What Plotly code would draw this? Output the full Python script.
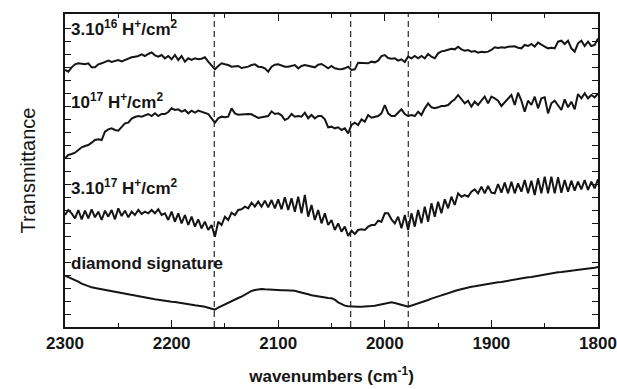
import numpy as np
import plotly.graph_objects as go

# spectral sampling grid (cm^-1), uniform step 3.125
wavenumber = np.linspace(2300, 1800, 161)

# relative transmittance (arbitrary units)
t_3e16 = [180,175,188,197,200,198,197,200,188,188,
          197,200,203,208,204,207,210,206,210,215,
          218,220,222,227,222,228,233,224,220,225,
          215,222,212,225,210,222,205,215,210,215,
          212,214,218,205,195,182,192,200,197,195,
          190,192,192,186,187,190,195,197,190,189,
          185,175,190,196,197,194,190,190,192,195,
          185,192,195,193,192,188,196,198,192,185,
          192,
          185,183,182,185,190,180,182,202,202,201,
          200,205,203,208,222,225,216,214,215,208,
          212,204,220,215,222,215,222,215,228,220,
          215,230,236,238,242,244,242,250,242,238,
          240,235,237,232,235,233,235,240,248,246,
          248,247,250,251,251,247,245,255,252,258,
          250,262,255,250,245,247,245,265,268,258,
          268,245,235,260,268,252,265,252,255,275]

t_1e17 = [95,105,108,112,120,128,132,135,142,150,
          152,150,175,182,185,180,178,190,200,202,
          214,219,222,220,224,228,222,230,222,228,
          228,234,245,240,242,235,240,230,238,232,
          238,235,230,228,215,202,215,220,218,220,
          245,230,226,227,226,228,227,221,216,218,
          219,222,236,228,230,224,210,215,228,220,
          222,220,232,215,225,215,222,222,212,188,
          190,
          185,188,180,185,170,195,202,195,212,205,
          225,217,220,222,230,255,230,222,222,232,
          242,228,222,225,222,235,225,245,260,248,
          245,248,252,252,255,265,272,285,272,260,
          268,250,265,255,268,280,260,280,275,268,
          252,262,275,285,255,292,268,235,268,255,
          280,245,275,278,230,260,268,255,240,272,
          248,265,242,288,275,290,275,285,278,290]

t_3e17 = [135,150,140,125,150,122,148,125,152,128,
          145,120,148,130,150,122,155,132,148,128,
          145,135,150,138,145,140,150,140,152,135,
          140,120,145,115,140,110,135,105,130,100,
          122,95,115,90,105,70,115,105,130,120,
          142,135,150,152,160,155,172,160,175,160,
          178,158,180,155,182,152,188,150,185,145,
          190,140,195,130,165,120,150,110,140,105,
          120,
          90,110,85,100,72,88,78,90,92,90,
          100,105,105,118,115,140,140,122,110,130,
          95,135,90,140,100,150,110,160,115,170,
          130,175,140,182,155,190,165,200,190,195,
          190,205,212,200,220,200,222,202,200,228,
          202,232,200,235,200,230,205,240,200,238,
          195,245,200,250,200,250,200,248,202,240,
          205,238,208,235,212,240,210,235,215,242]

t_diamond = [238,234,230,225,220,214,210,207,203,201,
             199,197,195,193,191,189,187,185,183,181,
             179,177,175,173,171,170,168,167,166,164,
             163,162,160,159,157,155,153,151,150,149,
             148,147,145,142,138,136,142,147,153,158,
             162,166,171,175,181,187,192,195,197,198,
             197,196,195,194,194,194,194,194,194,193,
             190,188,185,182,179,177,175,173,172,171,
             170,
             166,158,152,148,146,145,145,145,145,145,
             146,147,148,150,153,156,158,158,156,154,
             151,148,145,148,151,154,157,161,165,169,
             173,176,179,182,186,189,192,195,198,201,
             203,205,206,208,209,211,213,214,216,218,
             219,221,223,224,226,228,229,231,233,234,
             236,238,239,241,242,244,246,248,249,251,
             252,253,254,255,257,258,260,261,262,264]

series = [t_3e16, t_1e17, t_3e17, t_diamond]
labels = ["3.10<sup>16</sup> H<sup>+</sup>/cm<sup>2</sup>",
          "10<sup>17</sup> H<sup>+</sup>/cm<sup>2</sup>",
          "3.10<sup>17</sup> H<sup>+</sup>/cm<sup>2</sup>",
          "diamond signature"]
offsets = [591, 411, 201, -84]          # vertical stacking offsets
marker_lines = [2160, 2032, 1978]      # cm^-1

label_y = [0.955, 0.722, 0.447, 0.204]

FONT = "Liberation Sans, Arial, Helvetica, sans-serif"
INK = "#151515"

fig = go.Figure()
for s, off in zip(series, offsets):
    fig.add_trace(go.Scatter(x=wavenumber, y=[off + v for v in s], mode="lines",
                             line=dict(color=INK, width=2), showlegend=False,
                             hoverinfo="skip"))

for w in marker_lines:
    fig.add_shape(type="line", xref="x", yref="paper", x0=w, x1=w, y0=0, y1=1,
                  line=dict(color=INK, width=1.1, dash="6px,4px"))

for lab, ly in zip(labels, label_y):
    fig.add_annotation(text=lab, xref="paper", yref="paper", x=0.008, y=ly,
                       xanchor="left", yanchor="middle", showarrow=False,
                       font=dict(family=FONT, size=17, color=INK, weight="bold"))

fig.update_layout(
    width=617, height=389,
    margin=dict(l=65, r=19, t=14, b=62, autoexpand=False),
    paper_bgcolor="white", plot_bgcolor="white",
    font=dict(family=FONT, color=INK),
)
fig.update_xaxes(
    automargin=False,
    range=[2300, 1800], tick0=1800, dtick=100,
    ticks="inside", ticklen=7, tickwidth=1.2, tickcolor=INK,
    minor=dict(dtick=50, ticks="inside", ticklen=4, tickwidth=1.2, tickcolor=INK, showgrid=False),
    showline=True, linecolor=INK, linewidth=1.5, mirror="allticks",
    showgrid=False, zeroline=False,
    ticklabelstandoff=0,
    tickfont=dict(family=FONT, size=17, color=INK, weight="bold"),
    title=dict(text="wavenumbers (cm<sup>-1</sup>)",
               font=dict(family=FONT, size=17, color=INK, weight="bold"), standoff=18),
)
fig.update_yaxes(
    automargin=False,
    range=[0, 939], tick0=0, dtick=39,
    ticks="inside", ticklen=6, tickwidth=1.2, tickcolor=INK,
    showticklabels=False,
    showline=True, linecolor=INK, linewidth=1.5, mirror="allticks",
    showgrid=False, zeroline=False,
    title=dict(text="Transmittance", font=dict(family=FONT, size=20, color=INK), standoff=22),
)

fig.write_html("out.html")
